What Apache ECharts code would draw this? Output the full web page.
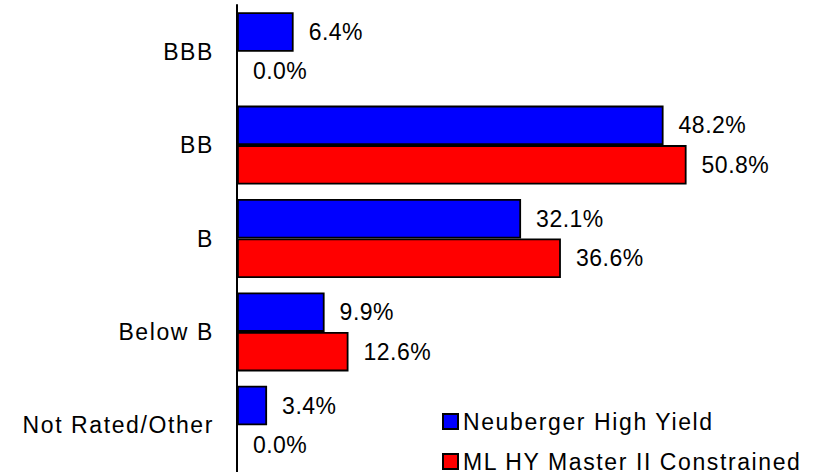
<!DOCTYPE html>
<html>
<head>
<meta charset="utf-8">
<script src="https://cdn.jsdelivr.net/npm/echarts@6/dist/echarts.min.js"></script>
<style>
  html, body { margin: 0; padding: 0; background: #fff; }
  #chart { width: 832px; height: 472px; }
  /* the source text is set a bit loose */
  #chart text { letter-spacing: 1.6px; }
  #chart text[style*="Arial"] { letter-spacing: 0.5px; }
</style>
</head>
<body>
<div id="chart"></div>
<script>
// ratings, top to bottom
var categories = ['BBB', 'BB', 'B', 'Below B', 'Not Rated/Other']
var seriesNames = ['Neuberger High Yield', 'ML HY Master II Constrained']
// percent of portfolio
var neuberger = [6.4, 48.2, 32.1, 9.9, 3.4]
var mlhy = [0.0, 50.8, 36.6, 12.6, 0.0]

var chart = echarts.init(document.getElementById('chart'), null, { renderer: 'svg' })

function barSeries(name, values, color) {
  return {
    name: name,
    type: 'bar',
    data: values,
    barGap: '0%',
    barCategoryGap: '15.4%',
    itemStyle: { color: color, borderColor: '#000', borderWidth: 1.8 },
    label: {
      show: true,
      position: 'right',
      distance: 15,
      color: '#000',
      fontSize: 23,
      fontFamily: 'Arial',
      formatter: function (p) { return p.value.toFixed(1) + '%' }
    }
  }
}

// one legend per row, stacked at bottom right
function legendRow(name, top) {
  return {
    left: 442,
    top: top,
    padding: 0,
    itemWidth: 15,
    itemHeight: 15,
    icon: 'rect',
    data: [name],
    textStyle: { color: '#000', fontSize: 23, lineHeight: 20, fontFamily: 'Liberation Sans' }
  }
}

var option = {
  animation: false,
  backgroundColor: '#fff',
  grid: { left: 237, top: 5, height: 473, right: 64 },
  xAxis: {
    type: 'value',
    min: 0,
    max: 60,
    show: false
  },
  yAxis: {
    type: 'category',
    inverse: true,
    data: categories,
    axisLine: { show: true, lineStyle: { color: '#000', width: 2 } },
    axisTick: { show: false },
    splitLine: { show: false },
    axisLabel: {
      margin: 23,
      color: '#000',
      fontSize: 23,
      fontFamily: 'Liberation Sans'
    }
  },
  legend: [
    legendRow(seriesNames[0], 410),
    legendRow(seriesNames[1], 450)
  ],
  series: [
    barSeries(seriesNames[0], neuberger, '#0000FF'),
    barSeries(seriesNames[1], mlhy, '#FF0000')
  ]
}

chart.setOption(option)
</script>
</body>
</html>
